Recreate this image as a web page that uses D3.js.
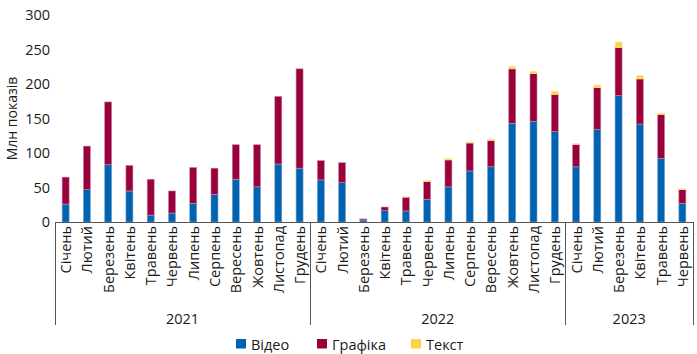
<!DOCTYPE html>
<html><head><meta charset="utf-8">
<script src="https://cdn.jsdelivr.net/npm/d3@7"></script>
<style>
body{margin:0;background:#fff;}
text{font-family:"Open Sans",sans-serif;fill:#1a1a1a;}
</style></head>
<body><svg id="c" width="697" height="354"></svg>
<script>
const months = ["Січень","Лютий","Березень","Квітень","Травень","Червень","Липень","Серпень","Вересень","Жовтень","Листопад","Грудень",
"Січень","Лютий","Березень","Квітень","Травень","Червень","Липень","Серпень","Вересень","Жовтень","Листопад","Грудень",
"Січень","Лютий","Березень","Квітень","Травень","Червень"];
const years = ["2021","2022","2023"];
const monthsPerYear = [12,12,6];
const video = [26,47,83,45,10,13,27,40,62,51,84,78, 61,57,3,16.5,16,33,51,74,80,143,146,131, 80,134,183,142,92,27];
const graphics = [39,63,91,37,52,32,52,38,50,61,98,144, 28,29,1.5,5.5,20,25.5,39,40.5,38,79,69,54, 32.6,60.7,70,65.4,63.7,19.8];
const textS = [0,0,0,0,0,0,0,0,0,0,0,0, 0,0,0,0.3,1.3,2,2,1.5,2,3.5,3.5,4.5, 1.5,3.8,7.8,5,2,1.5];
const yTicks = [0,50,100,150,200,250,300];
const seriesNames = ["Відео","Графіка","Текст"];
const colors = ["#0063B1","#99003C","#FFD24D"];
const strokes = ["#7fa6d6","#c98aa3","#ffe9a6"];

const svg = d3.select("#c");
const L=55,R=693,T=15,B=222;
const x = d3.scaleBand().domain(d3.range(months.length)).range([L,R]).paddingInner(0.67).paddingOuter(0.335);
const y = d3.scaleLinear().domain([0,300]).range([B,T]);

const data = months.map((m,i)=>({i, "Відео":video[i], "Графіка":graphics[i], "Текст":textS[i]}));
const stack = d3.stack().keys(seriesNames)(data);

svg.append("g").selectAll("g").data(stack).join("g")
  .attr("fill",(d,k)=>colors[k]).attr("stroke",(d,k)=>strokes[k]).attr("stroke-width",0.6)
  .selectAll("rect").data(d=>d.filter(s=>s[1]-s[0]>0)).join("rect")
  .attr("x",d=>x(d.data.i)).attr("width",x.bandwidth())
  .attr("y",d=>y(d[1])).attr("height",d=>y(d[0])-y(d[1]));

// y axis
const ya = svg.append("g").attr("transform",`translate(${L},0)`)
  .call(d3.axisLeft(y).tickValues(yTicks).tickSize(0).tickPadding(5));
ya.select(".domain").remove();
ya.selectAll("text").style("font-size","14.5px").style("font-family","'Open Sans',sans-serif").attr("fill","#1a1a1a");

svg.append("text").attr("transform",`translate(11,${(T+B)/2}) rotate(-90)`)
  .attr("text-anchor","middle").attr("dominant-baseline","central")
  .style("font-size","14px").text("Млн показів");

// x axis
const ax = svg.append("g").attr("stroke","#555").attr("stroke-width",1);
ax.append("line").attr("x1",L).attr("x2",R).attr("y1",B+0.5).attr("y2",B+0.5);
let start=0; const bounds=[L];
monthsPerYear.forEach(n=>{start+=n; bounds.push(start>=months.length?R:x(start)-x.step()*x.paddingInner()/2);});
bounds.forEach(bx=>{ax.append("line").attr("x1",Math.round(bx)+0.5).attr("x2",Math.round(bx)+0.5).attr("y1",B).attr("y2",325);});

svg.append("g").selectAll("text").data(months).join("text")
  .attr("transform",(d,i)=>`translate(${x(i)+x.bandwidth()/2},${B+4}) rotate(-90)`)
  .attr("text-anchor","end").attr("dominant-baseline","central")
  .style("font-size","14.5px").text(d=>d);

svg.append("g").selectAll("text").data(years).join("text")
  .attr("x",(d,k)=>(bounds[k]+bounds[k+1])/2).attr("y",318)
  .attr("text-anchor","middle").attr("dominant-baseline","central")
  .style("font-size","14.5px").text(d=>d);

// legend
const legX=[236,317,411];
const lg = svg.append("g").selectAll("g").data(seriesNames).join("g")
  .attr("transform",(d,k)=>`translate(${legX[k]},339)`);
lg.append("rect").attr("width",10).attr("height",9.5).attr("fill",(d,k)=>colors[k]);
lg.append("text").attr("x",15).attr("y",5).attr("dominant-baseline","central").style("font-size","14.5px").text(d=>d);
</script></body></html>
